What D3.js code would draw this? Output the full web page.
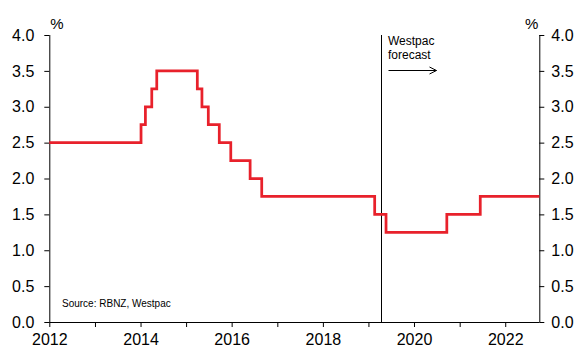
<!DOCTYPE html>
<html>
<head>
<meta charset="utf-8">
<script src="https://cdn.jsdelivr.net/npm/d3@7"></script>
<style>
  body { margin: 0; background: #fff; }
  svg text { font-family: "Liberation Sans", Arial, sans-serif; fill: #000; }
</style>
</head>
<body>
<script>
// OCR path (step after each date)
const changeDates = ["2012-01-01", "2014-01-05", "2014-02-09", "2014-04-01", "2014-05-11",
  "2015-04-01", "2015-05-08", "2015-06-28", "2015-09-24", "2015-12-25", "2016-05-28",
  "2016-08-29", "2019-02-20", "2019-05-22", "2020-09-20", "2021-06-15", "2022-10-01"];
const rates = [2.5, 2.75, 3.0, 3.25, 3.5, 3.25, 3.0, 2.75, 2.5, 2.25, 2.0, 1.75,
  1.5, 1.25, 1.5, 1.75, 1.75];
const yTicks = [0, 0.5, 1, 1.5, 2, 2.5, 3, 3.5, 4];
const xLabelYears = [2012, 2014, 2016, 2018, 2020, 2022];
const forecastStart = "2019-04-10";

const w = 576;
const h = 347;
const padL = 49.3, padR = 539.3, padT = 35, padB = 322;
const parse = d3.timeParse("%Y-%m-%d");

const svg = d3.select("body").append("svg").attr("width", w).attr("height", h);

const x = d3.scaleTime()
  .domain([parse("2012-01-01"), parse("2022-10-01")])
  .range([padL, padR]);
const y = d3.scaleLinear().domain([0, 4]).range([padB, padT]);

// x axis: tick every year, label every second
const xAxis = d3.axisBottom(x)
  .tickValues(d3.range(2012, 2023).map(function (yr) { return new Date(yr, 0, 1); }))
  .tickSize(5)
  .tickPadding(4)
  .tickFormat(function (d) {
    const yr = d.getFullYear();
    return xLabelYears.indexOf(yr) >= 0 ? yr : "";
  });
const gx = svg.append("g").attr("transform", `translate(0,${padB})`).call(xAxis);
gx.select(".domain").attr("d", `M${padL},0.5H${padR}`);
gx.selectAll("text").style("font-size", "16px").attr("dy", "0.85em");

const yFmt = d3.format(".1f");
const gl = svg.append("g").attr("transform", `translate(${padL},0)`)
  .call(d3.axisLeft(y).tickValues(yTicks).tickSize(5).tickPadding(10).tickFormat(yFmt));
gl.select(".domain").attr("d", `M0.5,${padT}V${padB}`);
gl.selectAll("text").style("font-size", "16px");

const gr = svg.append("g").attr("transform", `translate(${padR},0)`)
  .call(d3.axisRight(y).tickValues(yTicks).tickSize(5).tickPadding(7).tickFormat(yFmt));
gr.select(".domain").attr("d", `M0.5,${padT}V${padB}`);
gr.selectAll("text").style("font-size", "16px");

svg.selectAll(".domain, .tick line").attr("stroke", "#000");

// unit labels
svg.append("text").attr("x", padL + 1).attr("y", 29).style("font-size", "15px").text("%");
svg.append("text").attr("x", padR - 1).attr("y", 29).attr("text-anchor", "end")
  .style("font-size", "15px").text("%");

// forecast divider
const fx = Math.round(x(parse(forecastStart))) + 0.5;
svg.append("line")
  .attr("x1", fx).attr("x2", fx).attr("y1", padT).attr("y2", padB)
  .attr("stroke", "#000").attr("stroke-width", 1);
svg.append("text").attr("x", fx + 6.5).attr("y", 45).style("font-size", "12px").text("Westpac");
svg.append("text").attr("x", fx + 6.5).attr("y", 59).style("font-size", "12px").text("forecast");
const ax0 = fx + 7, ax1 = fx + 55, ay = 70.5;
svg.append("path")
  .attr("d", `M${ax0},${ay}H${ax1}M${ax1 - 7},${ay - 3.5}L${ax1},${ay}L${ax1 - 7},${ay + 3.5}`)
  .attr("fill", "none").attr("stroke", "#000").attr("stroke-width", 1);

// rate line
const pts = changeDates.map(function (d, i) { return [parse(d), rates[i]]; });
const line = d3.line()
  .curve(d3.curveStepAfter)
  .x(function (d) { return x(d[0]); })
  .y(function (d) { return y(d[1]); });
svg.append("path").datum(pts)
  .attr("d", line)
  .attr("fill", "none")
  .attr("stroke", "#e8212b")
  .attr("stroke-width", 2.75);

svg.append("text").attr("x", 62).attr("y", 307).style("font-size", "10px")
  .text("Source: RBNZ, Westpac");
</script>
</body>
</html>
